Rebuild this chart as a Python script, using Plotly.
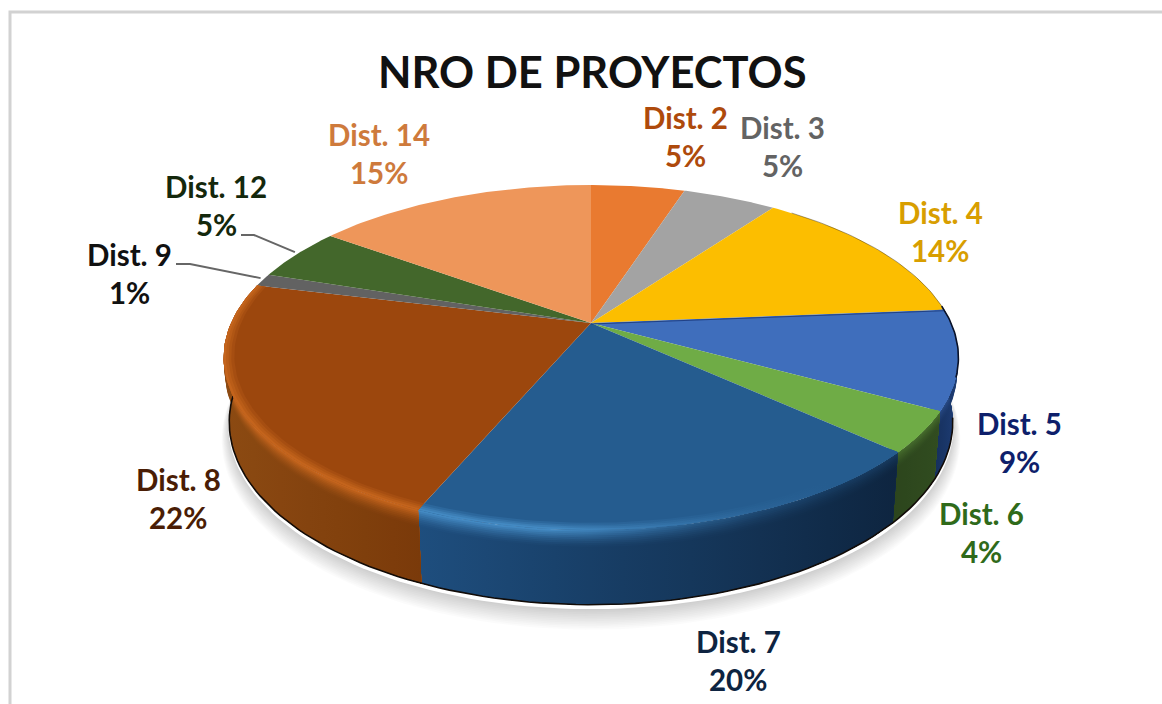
"""3D looking pie of NRO DE PROYECTOS, wedges projected by hand onto pixel axes."""

import numpy as np
import plotly.graph_objects as go

WIDTH = 1162
HEIGHT = 704

# data, clockwise from 12 o'clock
CATEGORIES = ["Dist. 2", "Dist. 3", "Dist. 4", "Dist. 5", "Dist. 6",
              "Dist. 7", "Dist. 8", "Dist. 9", "Dist. 12", "Dist. 14"]
VALUES = [5, 5, 13.7, 9.3, 3.8, 19.6, 22.4, 1.2, 5, 15]
TOP_COLORS = ["#E97A30", "#A3A3A3", "#FCBE00", "#3F6EBC", "#6FAC46",
              "#255C8F", "#9C470D", "#626262", "#43672B", "#EE965A"]
TEXT_COLORS = ["#AE4A0C", "#636363", "#D89E00", "#0E1F6B", "#2F6A1A",
               "#0E2441", "#4A1D05", "#111111", "#14280C", "#CE7A3C"]

# label centres, pixels
LABEL_X = [685, 782, 940, 1019, 981, 738, 178, 129, 216, 379]
LABEL_Y = [117, 127, 212, 423, 513, 641, 479, 254, 186, 134]
LINE_GAP = 38

# wall colours (left, right) and rim shine for the slices that show a side
WALL_COLORS = {
    "Dist. 5": ("#152F5C", "#1F3E75"),
    "Dist. 6": ("#2C451C", "#314C20"),
    "Dist. 7": ("#1E4E7E", "#0E2540"),
    "Dist. 8": ("#8C4A12", "#7A3A0A"),
}
SHINE_COLORS = {
    "Dist. 5": "#3F6EBC",
    "Dist. 6": "#6FAC46",
    "Dist. 7": "#4389C2",
    "Dist. 8": "#C4641C",
}

# projection of the disc
CX, CY = 591, 323
A, B, K = 360, 165.6, 0.2
DEPTH = 64


def project(r, theta, z=0.0):
    x = r * np.sin(theta)
    y = r * np.cos(theta)
    w = 1 + K * y + 0.015 * z
    return CX + A * x / w, CY + (-B * y + DEPTH * z) / w


def hex_rgb(c):
    return np.array([int(c[i:i + 2], 16) for i in (1, 3, 5)], dtype=float)


def mix(c1, c2, t):
    rgb = hex_rgb(c1) * (1 - t) + hex_rgb(c2) * t
    return "#%02x%02x%02x" % tuple(int(round(v)) for v in rgb)


def highlight(px):
    # the rim shines on the left and dies out to the right
    return float(np.clip((800 - px) / 240, 0, 1))


fig = go.Figure()


def add_poly(xs, ys, color=None, gradient=None):
    trace = dict(x=list(xs), y=list(ys), mode="lines", fill="toself",
                 line=dict(width=0), hoverinfo="skip", showlegend=False)
    if gradient:
        trace["fillgradient"] = dict(type="horizontal", colorscale=gradient)
    else:
        trace["fillcolor"] = color
    fig.add_trace(go.Scatter(**trace))


def add_line(xs, ys, color, width):
    fig.add_trace(go.Scatter(x=list(xs), y=list(ys), mode="lines",
                             line=dict(color=color, width=width),
                             hoverinfo="skip", showlegend=False))


def band(t0, t1, z0, z1, r0=1.0, r1=1.0):
    th = np.linspace(t0, t1, 60)
    x0, y0 = project(r0, th, z0)
    x1, y1 = project(r1, th[::-1], z1)
    return np.r_[x0, x1, x0[0]], np.r_[y0, y1, y0[0]]


def gradient_for(xs, color_at):
    lo, hi = min(xs), max(xs)
    stops = np.linspace(0, 1, 8)
    return [[float(s), color_at(lo + s * (hi - lo))] for s in stops]


edges = np.r_[0, np.cumsum(VALUES)] / sum(VALUES) * 2 * np.pi
full = np.linspace(0, 2 * np.pi, 240)

# soft shadow, then the white gap under the disc
for i in range(12, 0, -1):
    sx, sy = project(1 + 0.002 * i, full, 1.06 + 0.016 * i)
    add_poly(sx, sy, color="rgba(0,0,0,0.016)")
sx, sy = project(1.003, full, 1.05)
add_poly(sx, sy, color="#ffffff")

# side walls, rim layers painted from the top edge down
RIM_Z = np.linspace(0, 0.22, 10)
for i, name in enumerate(CATEGORIES):
    if name not in WALL_COLORS:
        continue
    t0, t1 = edges[i], edges[i + 1] + 0.004
    left, right = WALL_COLORS[name]
    wx, _ = band(t0, t1, 0, 1)
    lo, hi = wx.min(), wx.max()

    def wall_at(px):
        return mix(left, right, (px - lo) / (hi - lo))

    for j, z in enumerate(RIM_Z):
        f = 1 - j / (len(RIM_Z) - 1)

        def color_at(px):
            edge = mix(TOP_COLORS[i], SHINE_COLORS[name], highlight(px))
            return mix(wall_at(px), edge, f ** 1.5 * (0.35 + 0.65 * highlight(px)))

        xs, ys = band(t0, t1, z, 1)
        add_poly(xs, ys, gradient=gradient_for(xs, color_at))

# dark bottom edge of the wall, under the top of the disc
th = np.linspace(np.radians(100), np.radians(284), 120)
x, y = project(1.0, th, 1)
add_line(x, y, "#120c08", 1.6)

# top of the disc
for i, name in enumerate(CATEGORIES):
    th = np.linspace(edges[i], edges[i + 1], 60)
    x, y = project(1.0, th)
    add_poly(np.r_[CX, x, CX], np.r_[CY, y, CY], color=TOP_COLORS[i])

# inner bevel of the front slices
for i, name in enumerate(CATEGORIES):
    if name not in WALL_COLORS:
        continue
    for r, f in [(0.972, 0.25), (0.98, 0.5), (0.987, 0.75), (0.994, 1.0)]:
        xs, ys = band(edges[i], edges[i + 1], 0, 0, r, 1.0)

        def bevel_at(px):
            return mix(TOP_COLORS[i], SHINE_COLORS[name], f * highlight(px))

        add_poly(xs, ys, gradient=gradient_for(xs, bevel_at))

# dark edges along the upper right of the top, and under the yellow slice
th = np.linspace(np.radians(40), np.radians(86), 40)
x, y = project(1.0, th)
add_line(x, y, "rgba(60,45,10,0.45)", 1)
th = np.linspace(np.radians(84), np.radians(108), 30)
x, y = project(1.0, th)
add_line(x, y, "#0a1228", 1.6)
i = CATEGORIES.index("Dist. 5")
ex, ey = project(1.0, edges[i])
add_line([CX, float(ex)], [CY + 1, float(ey) + 1], "rgba(20,45,110,0.7)", 1)

# leader lines for the two small slices
for name, start, knee in [("Dist. 9", (176, 264), (190, 264)),
                          ("Dist. 12", (241, 235), (254, 235))]:
    i = CATEGORIES.index(name)
    ex, ey = project(1.0, (edges[i] + edges[i + 1]) / 2)
    add_line([start[0], knee[0], float(ex) - 2], [start[1], knee[1], float(ey) - 2],
             "#666666", 2)

# frame of the chart area
add_line([10, 10, WIDTH], [HEIGHT, 12, 12], "#d2d2d2", 3)

# labels
annotations = []
for i, name in enumerate(CATEGORIES):
    pct = f"{VALUES[i] / sum(VALUES) * 100:.0f}%"
    for text, yy in [(name, LABEL_Y[i]), (pct, LABEL_Y[i] + LINE_GAP)]:
        annotations.append(dict(x=LABEL_X[i], y=yy, text=text, showarrow=False,
                                xanchor="center", yanchor="middle",
                                font=dict(family="Lato", size=29.5, weight=700,
                                          color=TEXT_COLORS[i])))
annotations.append(dict(x=592, y=71, text="NRO DE PROYECTOS", showarrow=False,
                        xanchor="center", yanchor="middle",
                        font=dict(family="Lato", size=43.5, weight=700, color="#111111")))

fig.update_layout(
    width=WIDTH, height=HEIGHT,
    margin=dict(l=0, r=0, t=0, b=0),
    paper_bgcolor="#ffffff", plot_bgcolor="#ffffff",
    showlegend=False,
    annotations=annotations,
    xaxis=dict(range=[0, WIDTH], visible=False, fixedrange=True),
    yaxis=dict(range=[HEIGHT, 0], visible=False, fixedrange=True),
)

fig.write_html("out.html", config={"displayModeBar": False},
               post_script="document.body.style.margin='0';")
